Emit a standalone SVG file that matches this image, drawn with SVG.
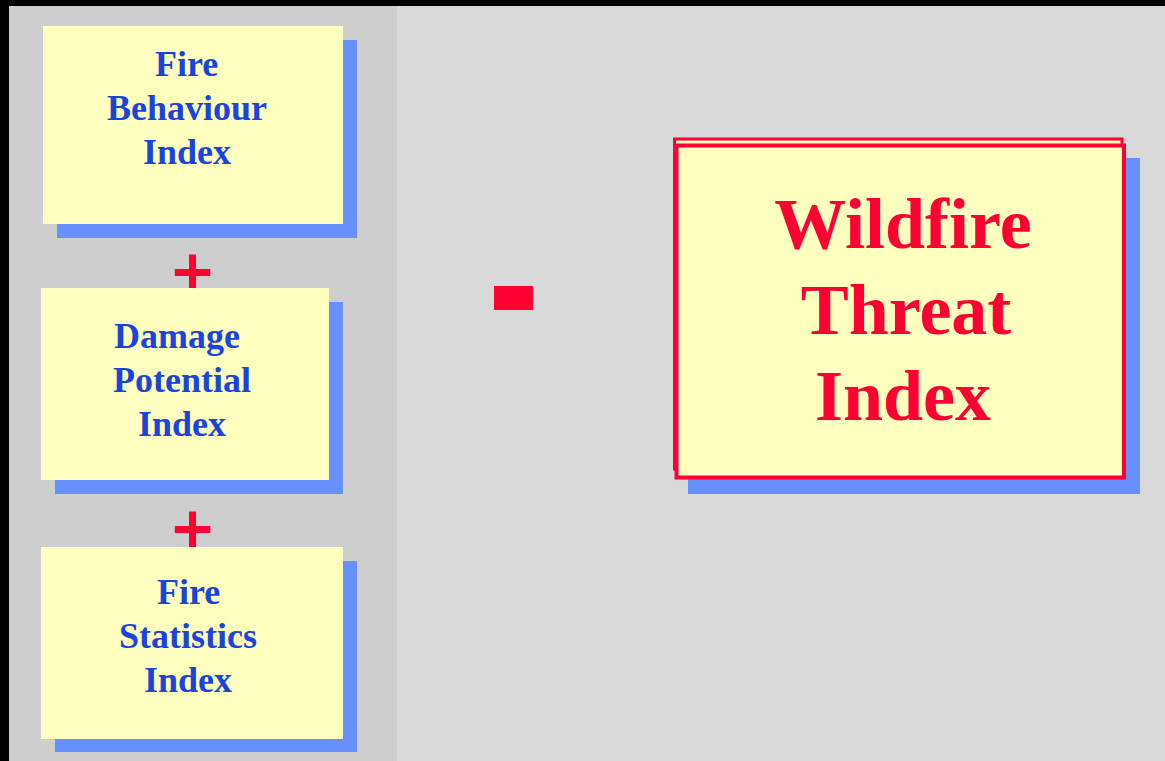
<svg xmlns="http://www.w3.org/2000/svg" width="1165" height="761" viewBox="0 0 1165 761">
<style>
.box{fill:#ffffbf;}
.sh{fill:#6690ff;}
.lbl{font-family:"Liberation Serif","Times New Roman",serif;font-weight:bold;font-size:36px;fill:#1a44dd;}
.big{font-family:"Liberation Serif","Times New Roman",serif;font-weight:bold;font-size:72px;fill:#ff0033;text-anchor:middle;}
.op{font-family:"Liberation Serif","Times New Roman",serif;font-weight:bold;font-size:72px;fill:#ff0033;stroke:#ff0033;stroke-width:2;text-anchor:middle;}
</style>
<rect x="0" y="0" width="1165" height="761" fill="#000"/>
<rect x="9" y="6" width="1156" height="755" fill="#d9d9d9"/>
<rect x="9" y="6" width="388" height="755" fill="#cecece"/>
<g id="operators">
<text class="op" x="192.5" y="296">+</text>
<text class="op" x="192.5" y="553">+</text>
<rect x="494" y="286" width="39" height="24" fill="#ff0033"/>
</g>
<g id="fire-behaviour">
<rect class="sh" x="57" y="40" width="300" height="198"/>
<rect class="box" x="43" y="26" width="300" height="198"/>
<text class="lbl" x="155" y="76">Fire</text>
<text class="lbl" x="107" y="120">Behaviour</text>
<text class="lbl" x="143" y="164">Index</text>
</g>
<g id="damage-potential">
<rect class="sh" x="55" y="302" width="288" height="192"/>
<rect class="box" x="41" y="288" width="288" height="192"/>
<text class="lbl" x="114" y="348">Damage</text>
<text class="lbl" x="113" y="392">Potential</text>
<text class="lbl" x="138" y="436">Index</text>
</g>
<g id="fire-statistics">
<rect class="sh" x="55" y="561" width="302" height="191"/>
<rect class="box" x="41" y="547" width="302" height="192"/>
<text class="lbl" x="157" y="604">Fire</text>
<text class="lbl" x="119" y="648">Statistics</text>
<text class="lbl" x="144" y="692">Index</text>
</g>
<g id="wildfire-threat">
<rect class="sh" x="688" y="158" width="452" height="336"/>
<rect x="674.5" y="139" width="447.5" height="330" fill="#ffffbf" stroke="#ff0033" stroke-width="3"/>
<rect x="676.5" y="145.5" width="447.5" height="332" fill="#ffffbf" stroke="#ff0033" stroke-width="4"/>
<text class="big" x="903" y="248">Wildfire</text>
<text class="big" x="906" y="334">Threat</text>
<text class="big" x="903" y="420">Index</text>
</g>
</svg>
